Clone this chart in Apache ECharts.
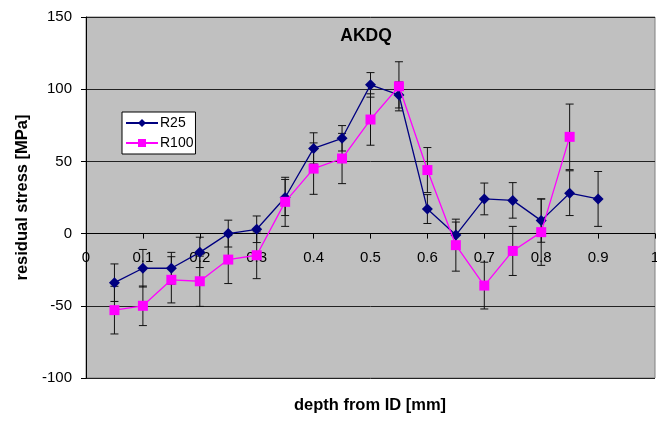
<!DOCTYPE html>
<html>
<head>
<meta charset="utf-8">
<style>
  html, body { margin: 0; padding: 0; background: #fff; }
  #chart { width: 657px; height: 421px; }
</style>
<script src="https://cdn.jsdelivr.net/npm/echarts@6/dist/echarts.min.js"></script>
</head>
<body>
<div id="chart"></div>
<script>
const depth = [0.05, 0.1, 0.15, 0.2, 0.25, 0.3, 0.35, 0.4, 0.45, 0.5, 0.55, 0.6, 0.65, 0.7, 0.75, 0.8, 0.85, 0.9]
const r25 = [-34, -24, -24, -13, 0, 3, 25, 59, 66, 103, 96, 17, -1, 24, 23, 9, 28, 24]
const r25Err = [13, 13, 11, 10.5, 9.3, 9.2, 12.5, 10.8, 8.8, 8.5, 9, 10, 9, 11, 12.3, 15, 15.5, 19]
const r100 = [-53, -50, -32, -33, -18, -15, 22, 45, 52, 79, 102, 44, -8, -36, -12, 1, 67]
const r100Err = [16.5, 13.7, 16, 17.4, 16.6, 16.2, 17, 17.8, 17.4, 17.8, 17, 15.6, 18, 16.2, 17, 23, 22.7]

const FONT = 'Liberation Sans, Arial, sans-serif'

const pairs = (vals) => vals.map((v, i) => [depth[i], v])
const errRows = (vals, errs) => vals.map((v, i) => [depth[i], v - errs[i], v + errs[i]])

const renderErrorBar = (params, api) => {
  const x = api.value(0)
  const top = api.coord([x, api.value(2)])
  const bot = api.coord([x, api.value(1)])
  const hw = 4
  const style = { stroke: '#111', lineWidth: 1 }
  return {
    type: 'group',
    children: [
      { type: 'line', shape: { x1: top[0], y1: top[1], x2: bot[0], y2: bot[1] }, style },
      { type: 'line', shape: { x1: top[0] - hw, y1: top[1], x2: top[0] + hw, y2: top[1] }, style },
      { type: 'line', shape: { x1: bot[0] - hw, y1: bot[1], x2: bot[0] + hw, y2: bot[1] }, style }
    ]
  }
}

const chart = echarts.init(document.getElementById('chart'))
chart.setOption({
  animation: false,
  textStyle: { fontFamily: FONT },
  title: {
    text: 'AKDQ',
    left: 361,
    top: 22,
    textAlign: 'center',
    textStyle: { fontSize: 17.5, fontWeight: 'bold', color: '#000', fontFamily: FONT }
  },
  graphic: [
    {
      type: 'text',
      x: 370,
      y: 405,
      style: {
        text: 'depth from ID [mm]',
        align: 'center',
        verticalAlign: 'middle',
        fontSize: 16.5, fontWeight: 'bold', fill: '#000', fontFamily: FONT
      }
    }
  ],
  legend: {
    data: ['R25', 'R100'],
    orient: 'vertical',
    left: 122,
    top: 112,
    padding: [4, 2, 4, 3],
    itemGap: 6,
    itemWidth: 32,
    itemHeight: 10,
    backgroundColor: '#fff',
    borderColor: '#000',
    borderWidth: 1,
    borderRadius: 0,
    textStyle: { fontSize: 14, color: '#000', fontFamily: FONT, padding: [0, 0, 0, -3] }
  },
  grid: {
    left: 86,
    right: 2,
    top: 17,
    bottom: 43,
    outerBoundsMode: 'none',
    show: true,
    backgroundColor: '#c0c0c0',
    borderColor: '#808080',
    borderWidth: 1
  },
  xAxis: {
    type: 'value',
    min: 0,
    max: 1,
    interval: 0.1,
    axisLine: { onZero: true, lineStyle: { color: '#000', width: 1 } },
    axisTick: { show: true, length: 5, lineStyle: { color: '#000' } },
    axisLabel: { fontSize: 15, color: '#000', margin: -128, fontFamily: FONT },
    splitLine: { show: false }
  },
  yAxis: {
    type: 'value',
    min: -100,
    max: 150,
    interval: 50,
    name: 'residual stress [MPa]',
    nameLocation: 'middle',
    nameGap: 48,
    nameTextStyle: { fontSize: 16.5, fontWeight: 'bold', color: '#000', fontFamily: FONT },
    axisLine: { show: true, lineStyle: { color: '#000', width: 1 } },
    axisTick: { show: true, length: 5, lineStyle: { color: '#000' } },
    axisLabel: { fontSize: 15, color: '#000', margin: 14, fontFamily: FONT },
    splitLine: { show: true, lineStyle: { color: '#222', width: 1 } }
  },
  series: [
    {
      name: 'R25 err',
      type: 'custom',
      renderItem: renderErrorBar,
      data: errRows(r25, r25Err),
      encode: { x: 0, y: [1, 2] },
      z: 1,
      silent: true
    },
    {
      name: 'R100 err',
      type: 'custom',
      renderItem: renderErrorBar,
      data: errRows(r100, r100Err),
      encode: { x: 0, y: [1, 2] },
      z: 1,
      silent: true
    },
    {
      name: 'R25',
      type: 'line',
      data: pairs(r25),
      symbol: 'diamond',
      symbolSize: 11,
      itemStyle: { color: '#000080' },
      lineStyle: { color: '#000080', width: 1.3 },
      z: 3
    },
    {
      name: 'R100',
      type: 'line',
      data: pairs(r100),
      symbol: 'rect',
      symbolSize: 10,
      itemStyle: { color: '#ff00ff' },
      lineStyle: { color: '#ff00ff', width: 1.3 },
      z: 4
    }
  ]
})
</script>
</body>
</html>
